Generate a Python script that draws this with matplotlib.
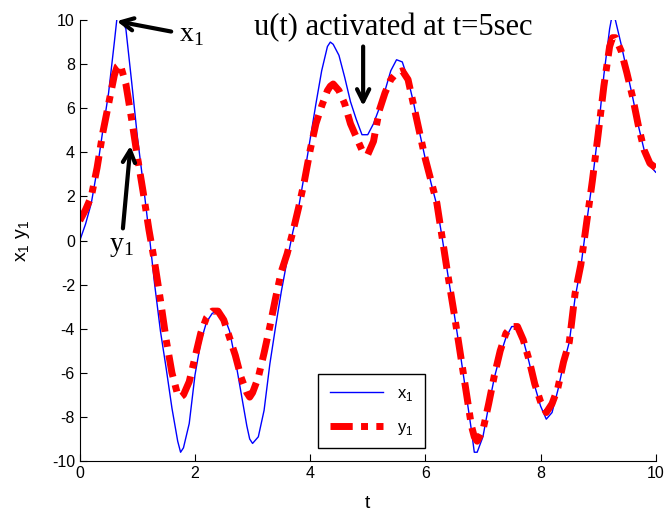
import matplotlib
matplotlib.use('Agg')
from matplotlib import pyplot as plt

t = [0.0, 0.1, 0.2, 0.3, 0.4, 0.5, 0.6, 0.65, 0.7, 0.8, 0.9,
     1.0, 1.1, 1.2, 1.3, 1.4, 1.5, 1.6, 1.7, 1.75, 1.8, 1.9,
     2.0, 2.1, 2.2, 2.3, 2.4, 2.5, 2.6, 2.7, 2.8, 2.9, 2.95,
     3.0, 3.1, 3.2, 3.3, 3.4, 3.5, 3.6, 3.7, 3.8, 3.9,
     4.0, 4.1, 4.2, 4.3, 4.35, 4.4, 4.5, 4.6, 4.7, 4.8, 4.9,
     5.0, 5.1, 5.2, 5.3, 5.4, 5.5, 5.6, 5.7, 5.8, 5.9,
     6.0, 6.1, 6.2, 6.3, 6.4, 6.5, 6.6, 6.7, 6.8, 6.85, 6.9,
     7.0, 7.1, 7.2, 7.3, 7.4, 7.5, 7.6, 7.7, 7.8, 7.9,
     8.0, 8.1, 8.2, 8.3, 8.4, 8.5, 8.6, 8.7, 8.8, 8.9,
     9.0, 9.1, 9.2, 9.25, 9.3, 9.4, 9.5, 9.6, 9.7, 9.8, 9.9, 10.0]

x1 = [0.0, 0.75, 1.7, 3.2, 5.0, 6.7, 9.0, 10.2, 10.2, 9.6, 7.2,
      4.7, 2.6, 0.4, -2.0, -4.1, -5.8, -7.6, -9.1, -9.6, -9.4, -8.3,
      -6.1, -4.6, -3.7, -3.3, -3.2, -3.4, -4.1, -5.4, -6.9, -8.4, -9.0,
      -9.2, -8.9, -7.7, -5.6, -3.9, -2.3, -0.9, 0.4, 1.5, 3.0,
      4.6, 6.2, 7.7, 8.8, 9.0, 8.9, 8.4, 7.4, 6.3, 5.5, 4.8,
      4.8, 5.3, 6.0, 6.8, 7.7, 8.2, 8.1, 7.3, 6.2, 4.9,
      3.7, 2.6, 1.6, 0.0, -1.7, -3.3, -5.0, -6.8, -8.6, -9.6, -9.6,
      -8.9, -7.5, -6.2, -5.2, -4.4, -3.9, -3.9, -4.5, -5.5, -6.6,
      -7.5, -8.1, -7.8, -6.8, -5.6, -4.6, -2.6, -1.2, 0.8, 2.7,
      4.9, 7.5, 9.6, 10.3, 10.0, 8.9, 7.7, 6.5, 5.2, 4.1, 3.4, 3.1]

y1 = [0.9, 1.4, 2.0, 3.3, 4.9, 6.2, 7.5, 7.9, 8.0, 7.1, 5.5,
      3.8, 2.2, 0.5, -1.0, -2.7, -4.5, -6.0, -7.0, -7.1, -7.0, -6.4,
      -5.3, -4.2, -3.5, -3.2, -3.2, -3.6, -4.4, -5.2, -6.2, -6.9, -7.1,
      -6.9, -6.2, -5.1, -3.9, -2.6, -1.4, -0.6, 0.4, 1.5, 2.7,
      4.1, 5.3, 6.1, 6.8, 7.0, 7.1, 6.8, 6.2, 5.3, 4.7, 4.1,
      3.9, 4.5, 5.9, 6.7, 7.3, 7.6, 7.7, 7.3, 6.1, 4.9,
      3.7, 2.7, 1.7, 0.0, -1.7, -3.3, -5.0, -6.7, -8.4, -8.9, -9.1,
      -8.6, -7.4, -6.1, -5.0, -4.2, -3.9, -3.9, -4.5, -5.4, -6.5,
      -7.3, -7.8, -7.4, -6.7, -5.5, -4.6, -2.4, -1.1, 0.8, 2.7,
      4.8, 7.0, 8.8, 9.2, 9.2, 8.6, 7.6, 6.5, 5.2, 4.1, 3.5, 3.3]

xticks = [0, 2, 4, 6, 8, 10]
yticks = [-10, -8, -6, -4, -2, 0, 2, 4, 6, 8, 10]

plt.rcParams['font.family'] = ['Liberation Sans', 'DejaVu Sans']
plt.rcParams['axes.unicode_minus'] = False

fig = plt.figure(figsize=(6.65, 5.14), dpi=100)
ax = fig.add_axes([0.12, 0.103, 0.866, 0.858])

ax.plot(t, x1, color=(0, 0, 1), lw=1.0, label='x$_\\mathregular{1}$')
ax.plot(t, y1, color=(1, 0, 0), lw=5.0, dashes=(3.2, 1.2, 1.0, 1.2),
        label='y$_\\mathregular{1}$')

ax.set_xlim(0, 10)
ax.set_ylim(-10, 10)
ax.set_xticks(xticks)
ax.set_yticks(yticks)
ax.tick_params(direction='in', length=5, labelsize=11.5)
for side in ('top', 'right'):
    ax.spines[side].set_visible(False)
ax.set_xlabel('t', fontsize=14, labelpad=10)
ax.set_ylabel('x$_\\mathregular{1}$ y$_\\mathregular{1}$', fontsize=14, labelpad=14)

leg = ax.legend(loc='lower left', bbox_to_anchor=(0.4, 0.01), fontsize=12,
                fancybox=False, edgecolor='black', framealpha=1.0,
                handlelength=3.2, borderpad=0.7, labelspacing=1.0)
leg.get_frame().set_linewidth(1.0)

serif = ['Liberation Serif', 'DejaVu Serif']
arrow = dict(arrowstyle='->', lw=3.0, color='black', mutation_scale=22)
ax.annotate('x$_\\mathregular{1}$', xy=(0.64, 9.95), xytext=(1.73, 9.3),
            family=serif, fontsize=20, ha='left', va='center',
            arrowprops=dict(arrow, shrinkB=0, shrinkA=4))
ax.annotate('y$_\\mathregular{1}$', xy=(0.88, 4.3), xytext=(0.72, 0.3),
            family=serif, fontsize=20, ha='center', va='top',
            arrowprops=dict(arrow, shrinkB=0, shrinkA=2))
ax.text(5.45, 9.65, 'u(t) activated at t=5sec', family=serif, fontsize=22,
        ha='center', va='center')
ax.annotate('', xy=(4.92, 6.1), xytext=(4.92, 8.8),
            arrowprops=dict(arrow, shrinkB=0, shrinkA=0))

fig.savefig('out.png', dpi=100)
